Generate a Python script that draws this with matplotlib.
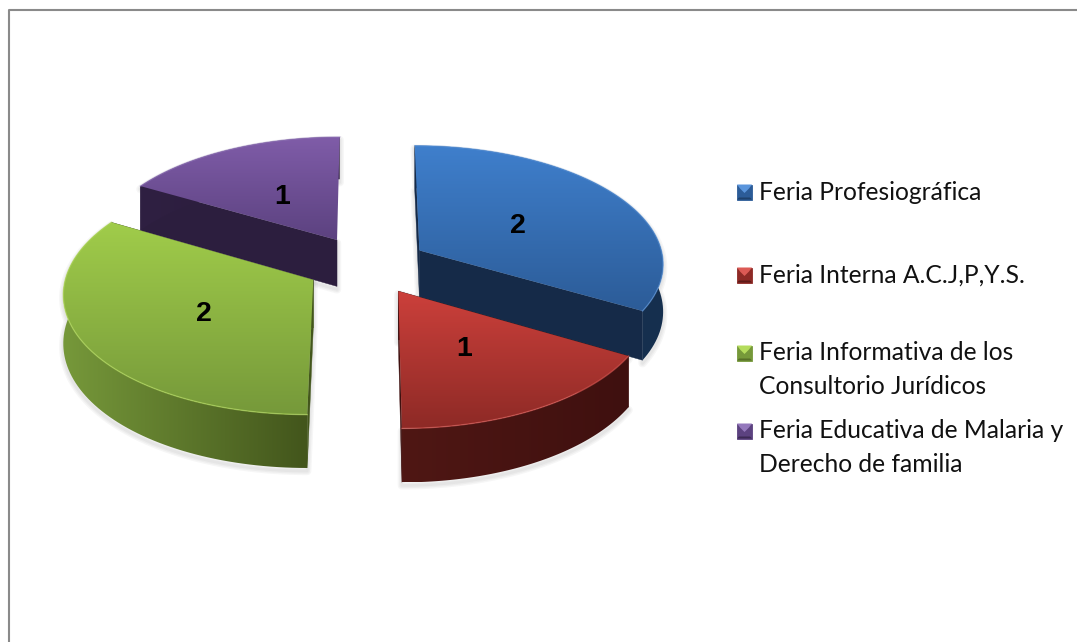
"""Pastel 3D de ferias, con porciones separadas."""

import numpy as np
import matplotlib
matplotlib.use('Agg')
from matplotlib import pyplot as plt
from matplotlib.patches import Polygon

# datos
labels = ['Feria Profesiográfica', 'Feria Interna A.C.J,P,Y.S.',
          'Feria Informativa de los\nConsultorio Jurídicos',
          'Feria Educativa de Malaria y\nDerecho de familia']
values = [2, 1, 2, 1]

# colores: superficie arriba/abajo, pared izq/der, canto
top_light = ['#3f7fcc', '#cc403b', '#a0cc4a', '#7f5ca8']
top_dark = ['#2c5c98', '#8e2a26', '#76993a', '#5c4280']
wall_left = ['#152a48', '#4f1714', '#76983a', '#2f2042']
wall_right = ['#16304f', '#3f100f', '#43561c', '#281a38']
cut_color = ['#152a48', '#3f100f', '#43561c', '#2c1e3e']
edge_color = ['#5a95dc', '#dc5a55', '#b4dc5c', '#9478bc']

# geometria en pixeles
W, H = 1077, 642
cx, cy = 367, 265
R, S, P = 245, 118, 0.10   # radio x, radio y, perspectiva
depth = 47.4
explode = 0.25


def project(u, v, z=0.0):
    k = 1 - P * v
    return cx + R * u / k, cy + (S * v + z * depth) / k


def hex2rgb(c):
    return np.array(matplotlib.colors.to_rgb(c))


def gradient(ax, poly, c0, c1, horizontal=False, zorder=2):
    # relleno con degradado recortado al poligono
    xs, ys = poly[:, 0], poly[:, 1]
    t = np.linspace(0, 1, 64)[:, None]
    img = hex2rgb(c0) * (1 - t) + hex2rgb(c1) * t
    img = img[None, :, :] if horizontal else img[:, None, :]
    im = ax.imshow(img, extent=(xs.min(), xs.max(), ys.max(), ys.min()),
                   aspect='auto', zorder=zorder, interpolation='bilinear')
    patch = Polygon(poly, closed=True, transform=ax.transData, fc='none', ec='none')
    ax.add_patch(patch)
    im.set_clip_path(patch)


fig = plt.figure(figsize=(W / 100, H / 100), dpi=100)
ax = fig.add_axes([0, 0, 1, 1])

# marco: solo izquierda y arriba
ax.plot([9, 9, W], [H, 9.5, 9.5], color='#8a8a8a', lw=1.5, zorder=1)

# angulos de cada porcion (horario desde arriba)
fracs = np.array(values) / sum(values)
ends = np.cumsum(fracs) * 2 * np.pi
starts = ends - fracs * 2 * np.pi
mids = (starts + ends) / 2
z = 2
# de atras hacia adelante
for i in [3, 0, 2, 1]:
    a = np.linspace(starts[i], ends[i], 80)
    ou, ov = explode * np.sin(mids[i]), -explode * np.cos(mids[i])
    us, vs = ou + np.sin(a), ov - np.cos(a)

    apex = np.array(project(ou, ov))
    apex_b = np.array(project(ou, ov, 1))
    arc = np.column_stack(project(us, vs))
    arc_b = np.column_stack(project(us, vs, 1))

    # sombra suave, corrida hacia abajo
    outline = np.vstack([apex, arc, arc_b[::-1], apex_b])
    for lw in [6, 4, 2]:
        ax.add_patch(Polygon(outline + [0, 3], closed=True, fc='none', ec='#555555',
                             lw=lw, alpha=0.05, zorder=z, joinstyle='round'))
    z += 1

    # caras de corte
    for k, (end_pt, end_b) in enumerate([(arc[0], arc_b[0]), (arc[-1], arc_b[-1])]):
        if i == 3 and k == 1:
            continue    # cara oculta del morado
        face = np.array([apex, end_pt, end_b, apex_b])
        ax.add_patch(Polygon(face, closed=True, fc=cut_color[i], ec=cut_color[i], lw=0.3, zorder=z))
    z += 1

    # pared exterior
    rim = np.vstack([arc, arc_b[::-1]])
    gradient(ax, rim, wall_left[i], wall_right[i], horizontal=True, zorder=z)
    z += 1

    # superficie
    top = np.vstack([apex, arc])
    gradient(ax, top, top_light[i], top_dark[i], zorder=z)
    z += 1
    ax.plot(arc[:, 0], arc[:, 1], color=edge_color[i], lw=1.0, alpha=0.6, zorder=z)
    z += 1

# etiquetas de valor
for i, val in enumerate(values):
    u = (explode + 0.49) * np.sin(mids[i])
    v = -(explode + 0.49) * np.cos(mids[i])
    x, y = project(u, v)
    ax.text(x, y + 3.5, str(val), ha='center', va='center', fontsize=20.5, fontweight='bold',
            family='Liberation Sans', color='black', zorder=z + 1)

# leyenda
legend_y = [191, 274, 352, 430]
line_gap = 34
mk = 15
for i, lab in enumerate(labels):
    y = legend_y[i]
    x0, x1 = 737, 737 + mk
    y0, y1 = y - mk / 2 + 1, y + mk / 2 + 1
    xm, ym = (x0 + x1) / 2, (y0 + y1) / 2
    ax.add_patch(Polygon([(x0, y0), (x1, y0), (x1, y1), (x0, y1)], closed=True,
                         fc=top_dark[i], ec=top_dark[i], lw=0.6, zorder=z))
    ax.add_patch(Polygon([(x0, y0), (x1, y0), (x1 - 3, y0 + 4), (xm, ym + 1), (x0 + 3, y0 + 4)],
                         closed=True, fc=edge_color[i], ec='none', zorder=z + 1))
    ax.add_patch(Polygon([(x0, y1), (x1, y1), (x1 - 2, y1 - 2), (x0 + 2, y1 - 2)],
                         closed=True, fc=wall_right[i], ec='none', alpha=0.6, zorder=z + 1))
    for j, part in enumerate(lab.split('\n')):
        ax.text(759, y + 1 + j * line_gap, part, ha='left', va='center', fontsize=17.7,
                family='Lato', color='#111111', zorder=z)

ax.set_xlim(0, W)
ax.set_ylim(H, 0)
ax.axis('off')
fig.savefig('out.png', dpi=100, facecolor='white')
